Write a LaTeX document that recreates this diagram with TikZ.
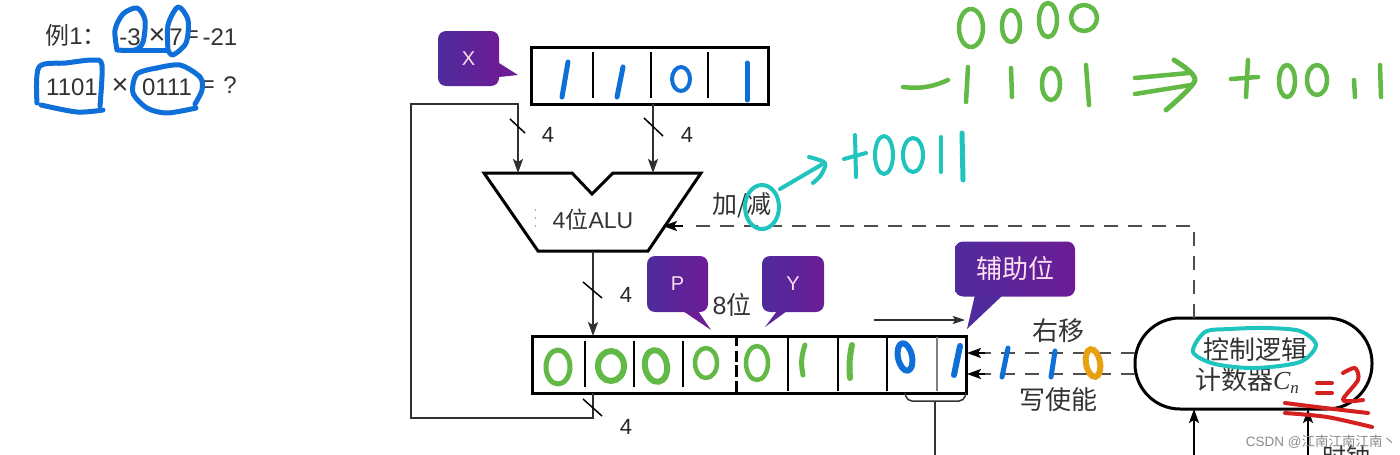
\documentclass[tikz,border=0pt]{standalone}
\usepackage{fontspec}
\setmainfont{Liberation Sans}
\newfontfamily\cjk{Noto Sans CJK SC}
\newfontfamily\ser{Liberation Serif}
\usetikzlibrary{arrows.meta}
\newcommand\fsz[1]{\fontsize{#1pt}{#1pt}\selectfont}
\definecolor{inkblue}{HTML}{0F6FD8}
\definecolor{inkgreen}{HTML}{62B946}
\definecolor{inkteal}{HTML}{1FC4BE}
\definecolor{inkred}{HTML}{D4211F}
\definecolor{inkorange}{HTML}{E8A010}
\definecolor{tagleft}{HTML}{4F2B9C}
\definecolor{tagright}{HTML}{6C1D96}
\definecolor{tagmid}{HTML}{5E2499}
\definecolor{wirecol}{HTML}{303030}
\tikzset{
  wire/.style={draw=wirecol,line width=1.5pt},
  tip/.style={-{Stealth[length=14pt,width=10pt,inset=3pt]}},
  dashwire/.style={draw=wirecol!85,line width=1.5pt,dash pattern=on 14pt off 10pt},
  tickmark/.style={draw=black,line width=1.5pt},
  regbox/.style={draw=black,line width=3pt,minimum height=56pt,inner sep=0pt},
  cell/.style={draw=black,line width=1.5pt},
  blk/.style={draw=black,line width=3pt,line join=miter},
  tagbox/.style={left color=tagleft,right color=tagright,rounded corners=8pt,inner sep=0pt,text=white!88!magenta},
  lab/.style={text=black!85,font=\fsz{22},inner sep=0pt},
  cn/.style={text=black!80,font=\cjk\fsz{26},inner sep=0pt},
  sum/.style={text=black!80,font=\fsz{24},inner sep=0pt},
  blue ink/.style={draw=inkblue,line width=4pt,line cap=round,line join=round},
  blue pen/.style={draw=inkblue,line width=5pt,line cap=round,line join=round},
  green ink/.style={draw=inkgreen,line width=4.5pt,line cap=round,line join=round},
  teal ink/.style={draw=inkteal,line width=4pt,line cap=round,line join=round},
  red ink/.style={draw=inkred,line width=4pt,line cap=round,line join=round},
}
\begin{document}
\begin{tikzpicture}[x=1pt,y=-1pt]
\useasboundingbox (0,0) rectangle (1400,455);
\clip (0,0) rectangle (1400,455);
\fill[white] (0,0) rectangle (1400,455);

% ---- worked example, top left
\node[cn,font=\cjk\fsz{24}] (exlabel) at (76,35) {例\fontspec{Liberation Sans}1\cjk：};
\node[sum] (aval) at (130,37) {-3};
\node[sum,font=\fsz{29}] (atimes) at (157,36) {×};
\node[sum] (bval) at (176,37) {7};
\node[sum] (aeq) at (192,37) {=};
\node[sum] (prod) at (220,37) {-21};
\node[sum] (bina) at (72,87) {1101};
\node[sum,font=\fsz{29}] (btimes) at (120,86) {×};
\node[sum] (binb) at (167,87) {0111};
\node[sum] (beq) at (208,87) {=};
\node[sum] (bq) at (230,85) {?};

\draw[blue pen] plot[smooth] coordinates {(117,50) (115,30) (123,14) (137,8) (145,20) (143,42) (135,50) (117,50)};
\draw[blue pen] (135,50) -- (168,50);
\draw[blue pen] plot[smooth] coordinates {(168,50) (168,25) (178,7) (188,20) (186,43) (173,55) (168,50)};
\draw[blue pen] plot[smooth] coordinates {(37,103) (39,67) (66,63) (93,60) (102,65) (100,106)};
\draw[blue pen] plot[smooth] coordinates {(41,105) (77,112) (103,110)};
\draw[blue pen] plot[smooth] coordinates {(157,68) (137,74) (133,93) (147,108) (167,113) (196,108)};
\draw[blue pen] plot[smooth] coordinates {(157,68) (180,65) (200,77) (202,90) (195,104)};

% ---- handwritten sums, top right
\draw[green ink] (971,28) ellipse [x radius=12,y radius=19];
\draw[green ink] (1011,26) ellipse [x radius=9,y radius=16];
\draw[green ink] (1048,20) ellipse [x radius=9,y radius=17];
\draw[green ink] (1084,18) ellipse [x radius=13,y radius=13];
\draw[green ink] (903,87) to[bend right=15] (948,80);
\draw[green ink] (968,67) -- (966,102);
\draw[green ink] (1011,68) -- (1012,97);
\draw[green ink] (1051,84) ellipse [x radius=9,y radius=16];
\draw[green ink] (1086,65) -- (1089,105);
\draw[green ink] (1135,78) -- (1189,73);
\draw[green ink] (1135,94) -- (1191,85);
\draw[green ink,line width=5pt] plot[smooth] coordinates {(1174,60) (1195,80) (1166,110)};
\draw[green ink] (1231,79) -- (1258,77);
\draw[green ink] (1248,60) -- (1246,97);
\draw[green ink] (1287,81) ellipse [x radius=8,y radius=16];
\draw[green ink] (1317,80) ellipse [x radius=10,y radius=15];
\draw[green ink] (1354,80) -- (1355,97);
\draw[green ink] (1380,65) -- (1381,97);

% ---- multiplicand register X
\node[regbox,minimum width=237pt,minimum height=57pt] (xreg) at (649.5,75.5) {};
\foreach \c in {593,651,708} \draw[cell] (\c,52) -- (\c,98);
\draw[blue pen] (568,62) -- (562,97);
\draw[blue pen] (623,67) -- (617,97);
\draw[blue ink] (681,79) ellipse [x radius=9,y radius=12];
\draw[blue pen] (747,63) -- (747,100);

\fill[tagright] (499,63) -- (518,75) -- (499,77) -- cycle;
\node[tagbox,minimum width=61pt,minimum height=55pt,font=\fsz{20}] (xtag) at (468.5,58.5) {X};

% ---- four-bit ALU
\draw[blk,fill=white] (484,173) -- (572,173) -- (592,194) -- (613,173) -- (701,173) -- (648,251) -- (538,251) -- cycle;
\node[inner sep=0pt,text=black!80,font=\fsz{23}] (alu) at (593,220) {4{\cjk 位}ALU};
\draw[black!35,line width=1pt,dash pattern=on 2pt off 6pt] (535,209) -- (535,228);
\coordinate (aluleft) at (518,173);
\coordinate (aluright) at (653,173);
\coordinate (aluout) at (593,251);
\coordinate (alusub) at (663,226);

% ---- product register P, Y and helper bit
\node[regbox,minimum width=434pt,minimum height=57pt] (preg) at (749,364.5) {};
\foreach \c in {585,634,683} \draw[cell] (\c,341) -- (\c,387);
\draw[blk] (736,336) -- (736,392);
\draw[white,line width=3pt] (736,346) -- (736,351);
\draw[white,line width=3pt] (736,362) -- (736,365);
\draw[white,line width=3pt] (736,377) -- (736,381);
\foreach \c in {788,838,887} \draw[cell] (\c,337) -- (\c,391);
\draw[black!50,line width=1.2pt] (937,337) -- (937,391);

\draw[green ink,line width=5pt] (558,367) ellipse [x radius=12,y radius=17];
\draw[green ink,line width=6pt] (611,366) ellipse [x radius=13,y radius=15];
\draw[green ink,line width=6pt,rotate around={10:(656,366)}] (656,366) ellipse [x radius=11,y radius=16];
\draw[green ink] (706,363) ellipse [x radius=11,y radius=15];
\draw[green ink] (757,363) ellipse [x radius=11,y radius=17];
\draw[green ink,line width=5pt] (805,345) to[bend right=15] (803,375);
\draw[green ink,line width=6pt] (852,345) to[bend right=8] (850,378);
\draw[blue pen,line width=6pt,rotate around={12:(905,357)}] (905,357) ellipse [x radius=7,y radius=14];
\draw[blue pen,line width=6pt] (960,346) -- (954,375);

\fill[tagright] (683,311) -- (711,330) -- (698,311) -- cycle;
\node[tagbox,minimum width=61pt,minimum height=56pt,font=\fsz{20}] (ptag) at (677.5,284) {P};
\fill[tagmid] (777,311) -- (765,327) -- (787,311) -- cycle;
\node[tagbox,minimum width=62pt,minimum height=56pt,font=\fsz{20}] (ytag) at (793,284) {Y};
\node[inner sep=0pt,text=black!80,font=\fsz{25}] (width) at (732,305) {8{\cjk 位}};
\fill[tagleft] (975,295) -- (967,329) -- (1003,295) -- cycle;
\node[tagbox,minimum width=120pt,minimum height=55pt,font=\cjk\fsz{26}] (aux) at (1015,269) {辅助位};

% ---- register buses and their widths
\coordinate (xl) at (411,104);
\coordinate (xm) at (518,104);
\coordinate (xr) at (653,104);
\coordinate (pl) at (593,393);
\coordinate (pt) at (593,336);
\coordinate (pd) at (593,418);
\coordinate (ql) at (411,418);
\draw[wire,tip] (pl) -- (pd) -- (ql) -- (xl) -- (xm) -- (aluleft);
\draw[wire,tip] (xr) -- (aluright);
\draw[wire,tip] (aluout) -- (pt);
\draw[tickmark] (510,119) -- (525,133);
\draw[tickmark] (644,118) -- (663,136);
\draw[tickmark] (583,282) -- (602,298);
\draw[tickmark] (583,399) -- (602,416);
\node[lab] (wa) at (548,135) {4};
\node[lab] (wb) at (687,135) {4};
\node[lab] (wc) at (626,295) {4};
\node[lab] (wd) at (626,427) {4};

% ---- right-shift direction and the two-bit brace
\coordinate (shfrom) at (874,320);
\coordinate (shto) at (965,320);
\draw[wire,-{Stealth[length=12pt,width=8pt,inset=2pt]}] (shfrom) -- (shto);
\coordinate (bl) at (905,393);
\coordinate (br) at (966,393);
\coordinate (bm) at (935,401);
\coordinate (bs) at (935,455);
\draw[draw=black!80,line width=1.5pt,rounded corners=5pt] (bl) -- (907,401) -- (964,401) -- (br);
\draw[draw=black!80,line width=1.5pt] (bm) -- (bs);

% ---- control logic
\node[draw=black,line width=3pt,fill=white,rounded corners=45pt,minimum width=237pt,minimum height=91pt,inner sep=0pt] (ctrl) at (1253.5,363.5) {};
\node[cn] (ctrla) at (1255,350) {控制逻辑};
\node[inner sep=0pt,text=black!80,font=\cjk\fsz{26}] (ctrlb) at (1247,381) {计数器{\ser\itshape C\raisebox{-4pt}{\fsz{17}n}}};
\coordinate (ctop) at (1194,318);
\coordinate (ccorner) at (1194,226);
\draw[dashwire] (ctop) -- (ccorner) -- (686,226);
\draw[wire,tip,draw=black] (683,226) -- (alusub);
\coordinate (cs) at (1135,353);
\coordinate (cw) at (1135,374);
\draw[dashwire] (cs) -- (985,353);
\draw[dashwire] (cw) -- (985,374);
\draw[wire,tip,draw=black] (985,353) -- (967,353);
\draw[wire,tip,draw=black] (985,374) -- (967,374);
\node[cn] (shift) at (1058,331) {右移};
\node[cn] (wren) at (1058,400) {写使能};
\node[cn,font=\cjk\fsz{25}] (addsub) at (742,205) {加/减};
\coordinate (cbot) at (1194,409);
\coordinate (cin) at (1194,455);
\coordinate (clkt) at (1308,409);
\coordinate (clkb) at (1308,455);
\draw[wire,tip,draw=black] (cin) -- (cbot);
\draw[wire,tip,draw=black] (clkb) -- (clkt);
\node[inner sep=0pt,text=black!80,font=\cjk\fsz{24}] (clock) at (1346,456) {时钟};

% ---- handwriting over the control path
\draw[blue pen] (1008,348) -- (1002,377);
\draw[blue pen] (1055,351) -- (1051,377);
\draw[draw=inkorange,line width=6pt,rotate around={10:(1093,363)}] (1093,363) ellipse [x radius=7,y radius=14];
\draw[teal ink] (762,207) ellipse [x radius=17,y radius=22];
\draw[teal ink] (780,189) -- (821,165);
\draw[teal ink] plot[smooth] coordinates {(809,157) (825,163) (821,175) (813,183)};
\draw[teal ink] (844,159) -- (866,153);
\draw[teal ink] (855,135) -- (856,177);
\draw[teal ink] (884,155) ellipse [x radius=9,y radius=19];
\draw[teal ink] (913,155) ellipse [x radius=10,y radius=17];
\draw[teal ink] (941,137) -- (941,172);
\draw[teal ink,line width=5pt] (962,133) -- (963,180);
\draw[teal ink] plot[smooth cycle] coordinates {(1205,332) (1230,329) (1265,328) (1300,331) (1316,345) (1300,362) (1255,368) (1215,364) (1193,352)};
\draw[red ink] (1317,383) -- (1332,383);
\draw[red ink] (1317,393) -- (1332,393);
\draw[red ink] plot[smooth] coordinates {(1343,373) (1355,368) (1358,380) (1343,400) (1363,400)};
\draw[red ink] plot[smooth] coordinates {(1285,403) (1325,408) (1368,413)};
\draw[red ink] plot[smooth] coordinates {(1285,413) (1327,417) (1372,427)};

% ---- site credit
\node[inner sep=0pt,text=black!45,font=\fsz{13.5}] (credit) at (1321,442) {CSDN @{\cjk 江南江南江南丶}};
\end{tikzpicture}
\end{document}
